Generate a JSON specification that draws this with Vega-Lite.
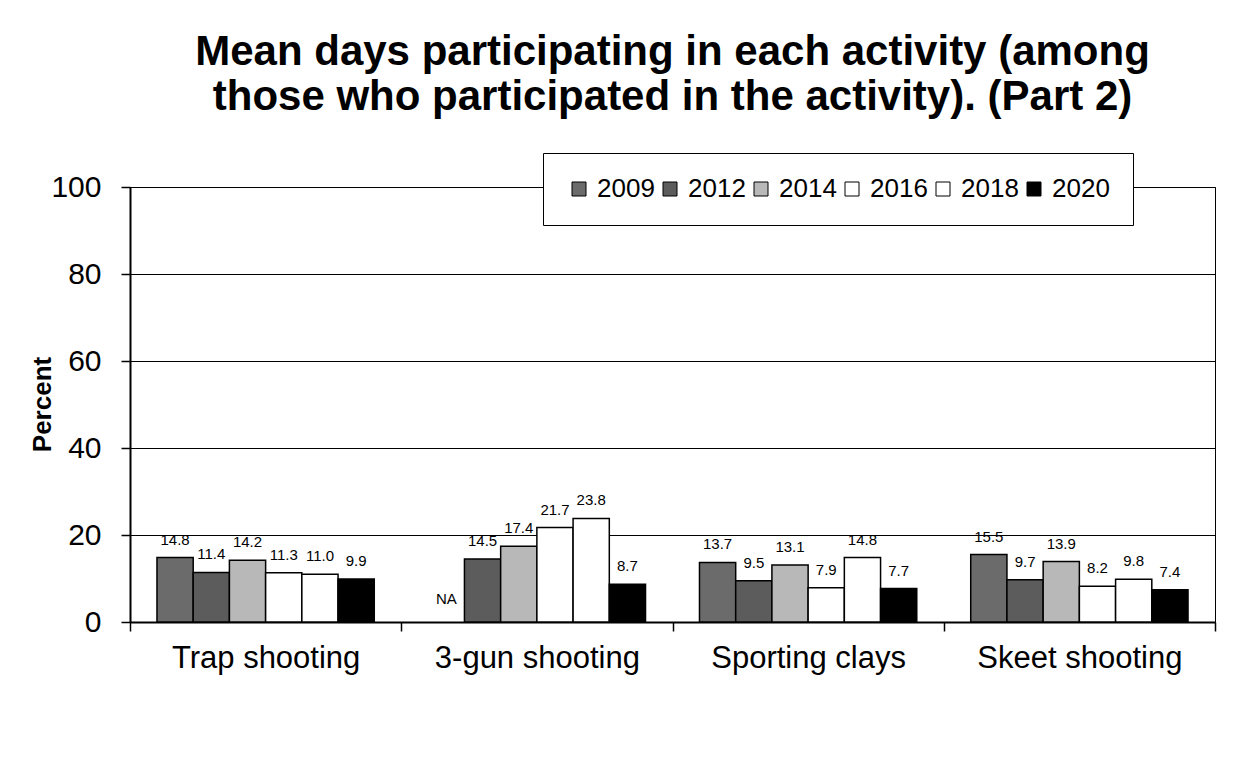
{
  "$schema": "https://vega.github.io/schema/vega-lite/v6.json",
  "width": 1085,
  "height": 435,
  "autosize": "none",
  "padding": {"left": 130, "top": 187, "right": 39, "bottom": 143},
  "background": "white",
  "title": {
    "text": ["Mean days participating in each activity (among", "those who participated in the activity). (Part 2)"],
    "fontSize": 42,
    "font": "Liberation Sans",
    "fontWeight": "bold",
    "color": "black",
    "anchor": "middle",
    "frame": "group",
    "lineHeight": 45,
    "offset": 34
  },
  "config": {
    "font": "Liberation Sans",
    "view": {"stroke": "black", "strokeWidth": 1}
  },
  "data": {
    "values": [
      {"activity": "Trap shooting", "year": "2009", "value": 14.8, "note": ""},
      {"activity": "Trap shooting", "year": "2012", "value": 11.4, "note": ""},
      {"activity": "Trap shooting", "year": "2014", "value": 14.2, "note": ""},
      {"activity": "Trap shooting", "year": "2016", "value": 11.3, "note": ""},
      {"activity": "Trap shooting", "year": "2018", "value": 11.0, "note": ""},
      {"activity": "Trap shooting", "year": "2020", "value": 9.9, "note": ""},
      {"activity": "3-gun shooting", "year": "2009", "value": null, "note": "NA"},
      {"activity": "3-gun shooting", "year": "2012", "value": 14.5, "note": ""},
      {"activity": "3-gun shooting", "year": "2014", "value": 17.4, "note": ""},
      {"activity": "3-gun shooting", "year": "2016", "value": 21.7, "note": ""},
      {"activity": "3-gun shooting", "year": "2018", "value": 23.8, "note": ""},
      {"activity": "3-gun shooting", "year": "2020", "value": 8.7, "note": ""},
      {"activity": "Sporting clays", "year": "2009", "value": 13.7, "note": ""},
      {"activity": "Sporting clays", "year": "2012", "value": 9.5, "note": ""},
      {"activity": "Sporting clays", "year": "2014", "value": 13.1, "note": ""},
      {"activity": "Sporting clays", "year": "2016", "value": 7.9, "note": ""},
      {"activity": "Sporting clays", "year": "2018", "value": 14.8, "note": ""},
      {"activity": "Sporting clays", "year": "2020", "value": 7.7, "note": ""},
      {"activity": "Skeet shooting", "year": "2009", "value": 15.5, "note": ""},
      {"activity": "Skeet shooting", "year": "2012", "value": 9.7, "note": ""},
      {"activity": "Skeet shooting", "year": "2014", "value": 13.9, "note": ""},
      {"activity": "Skeet shooting", "year": "2016", "value": 8.2, "note": ""},
      {"activity": "Skeet shooting", "year": "2018", "value": 9.8, "note": ""},
      {"activity": "Skeet shooting", "year": "2020", "value": 7.4, "note": ""}
    ]
  },
  "layer": [
    {
      "mark": {"type": "bar", "stroke": "black", "strokeWidth": 1.5},
      "encoding": {
        "x": {
          "field": "activity",
          "type": "nominal",
          "sort": ["Trap shooting", "3-gun shooting", "Sporting clays", "Skeet shooting"],
          "scale": {"paddingInner": 0, "paddingOuter": 0},
          "axis": {
            "title": null,
            "labelAngle": 0,
            "labelFontSize": 31,
            "labelLimit": 0,
            "labelColor": "black",
            "labelPadding": 12,
            "tickBand": "extent",
            "tickSize": 9,
            "tickColor": "black",
            "tickWidth": 1.5,
            "domainColor": "black",
            "domainWidth": 2,
            "grid": false
          }
        },
        "xOffset": {
          "field": "year",
          "type": "nominal",
          "sort": ["2009", "2012", "2014", "2016", "2018", "2020"],
          "scale": {"paddingInner": 0, "paddingOuter": 0.745}
        },
        "y": {
          "field": "value",
          "type": "quantitative",
          "scale": {"domain": [0, 100], "nice": false},
          "axis": {
            "title": "Percent",
            "titleFontSize": 26,
            "titleFontWeight": "bold",
            "titleColor": "black",
            "titleX": -88,
            "titleY": 217,
            "titleBaseline": "middle",
            "values": [0, 20, 40, 60, 80, 100],
            "labelFontSize": 30,
            "labelColor": "black",
            "labelPadding": 20,
            "tickSize": 9,
            "tickColor": "black",
            "tickWidth": 1.5,
            "domainColor": "black",
            "domainWidth": 2,
            "grid": true,
            "gridColor": "black",
            "gridWidth": 1
          }
        },
        "fill": {
          "field": "year",
          "type": "nominal",
          "scale": {
            "domain": ["2009", "2012", "2014", "2016", "2018", "2020"],
            "range": ["#6b6b6b", "#5c5c5c", "#b8b8b8", "#ffffff", "#ffffff", "#000000"]
          },
          "legend": {
            "title": null,
            "orient": "none",
            "legendX": 413,
            "legendY": -34,
            "direction": "horizontal",
            "columns": 6,
            "symbolType": "square",
            "symbolSize": 196,
            "symbolStrokeColor": "black",
            "symbolStrokeWidth": 1,
            "labelFontSize": 26,
            "labelColor": "black",
            "labelOffset": 5,
            "columnPadding": 2,
            "padding": 23,
            "fillColor": "white",
            "strokeColor": "black"
          }
        }
      }
    },
    {
      "mark": {"type": "text", "fontSize": 15, "color": "black", "baseline": "alphabetic", "dy": -13},
      "encoding": {
        "x": {"field": "activity", "type": "nominal", "sort": ["Trap shooting", "3-gun shooting", "Sporting clays", "Skeet shooting"]},
        "xOffset": {"field": "year", "type": "nominal", "sort": ["2009", "2012", "2014", "2016", "2018", "2020"]},
        "y": {"field": "value", "type": "quantitative"},
        "text": {"field": "value", "type": "quantitative", "format": ".1f"}
      }
    },
    {
      "transform": [{"filter": "datum.note == 'NA'"}],
      "mark": {"type": "text", "fontSize": 15, "color": "black", "baseline": "alphabetic", "dy": -18, "invalid": "show"},
      "encoding": {
        "x": {"field": "activity", "type": "nominal", "sort": ["Trap shooting", "3-gun shooting", "Sporting clays", "Skeet shooting"]},
        "xOffset": {"field": "year", "type": "nominal", "sort": ["2009", "2012", "2014", "2016", "2018", "2020"]},
        "y": {"datum": 0, "type": "quantitative"},
        "text": {"field": "note", "type": "nominal"}
      }
    }
  ]
}
